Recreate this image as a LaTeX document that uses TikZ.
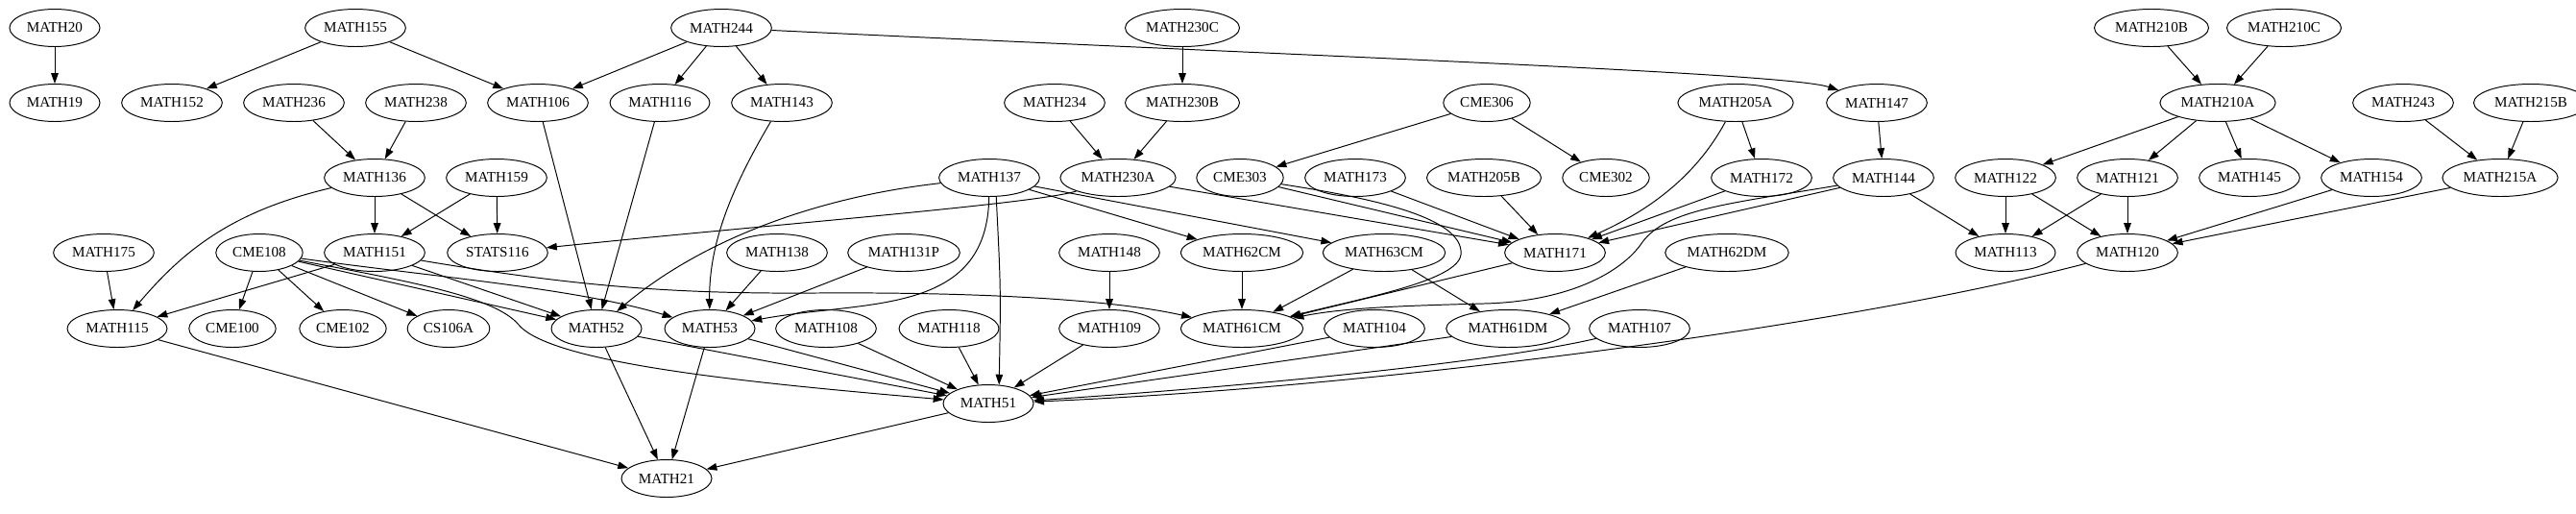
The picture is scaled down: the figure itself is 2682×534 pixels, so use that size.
\documentclass[tikz,border=0pt]{standalone}
\usepackage{fontspec}
\setmainfont{Liberation Serif}
\usetikzlibrary{shapes.geometric,arrows.meta}
\tikzset{
  crs/.style={ellipse, draw, line width=0.9pt, minimum height=36pt, inner xsep=3.85pt, inner ysep=2pt, font=\fontsize{14}{16}\selectfont},
  arr/.style={line width=0.9pt, -{Triangle[length=10pt,width=7pt]}}
}
\begin{document}
\begin{tikzpicture}[x=0.9233pt,y=-0.9233pt]
\useasboundingbox (0,0) rectangle (2682,534);
% row 1
\node[crs] (MATH20) at (57,29) {MATH20};
\node[crs] (MATH155) at (370,29) {MATH155};
\node[crs] (MATH244) at (751,29) {MATH244};
\node[crs] (MATH230C) at (1231,29) {MATH230C};
\node[crs] (MATH210B) at (2240,29) {MATH210B};
\node[crs] (MATH210C) at (2378,29) {MATH210C};
% row 2
\node[crs] (MATH19) at (57,107) {MATH19};
\node[crs] (MATH152) at (179,107) {MATH152};
\node[crs] (MATH236) at (306,107) {MATH236};
\node[crs] (MATH238) at (433,107) {MATH238};
\node[crs] (MATH106) at (560,107) {MATH106};
\node[crs] (MATH116) at (687,107) {MATH116};
\node[crs] (MATH143) at (814,107) {MATH143};
\node[crs] (MATH234) at (1098,107) {MATH234};
\node[crs] (MATH230B) at (1231,107) {MATH230B};
\node[crs] (CME306) at (1548,107) {CME306};
\node[crs] (MATH205A) at (1807,107) {MATH205A};
\node[crs] (MATH147) at (1954,107) {MATH147};
\node[crs] (MATH210A) at (2309,107) {MATH210A};
\node[crs] (MATH243) at (2502,107) {MATH243};
\node[crs] (MATH215B) at (2635,107) {MATH215B};
% row 3
\node[crs] (MATH136) at (390,185) {MATH136};
\node[crs] (MATH159) at (517,185) {MATH159};
\node[crs] (MATH137) at (1030,185) {MATH137};
\node[crs] (MATH230A) at (1164,185) {MATH230A};
\node[crs] (CME303) at (1291,185) {CME303};
\node[crs] (MATH173) at (1411,185) {MATH173};
\node[crs] (MATH205B) at (1545,185) {MATH205B};
\node[crs] (CME302) at (1672,185) {CME302};
\node[crs] (MATH172) at (1834,185) {MATH172};
\node[crs] (MATH144) at (1961,185) {MATH144};
\node[crs] (MATH122) at (2088,185) {MATH122};
\node[crs] (MATH121) at (2215,185) {MATH121};
\node[crs] (MATH145) at (2342,185) {MATH145};
\node[crs] (MATH154) at (2469,185) {MATH154};
\node[crs] (MATH215A) at (2603,185) {MATH215A};
% row 4
\node[crs] (MATH175) at (108,263) {MATH175};
\node[crs] (CME108) at (270,263) {CME108};
\node[crs] (MATH151) at (390,263) {MATH151};
\node[crs] (STATS116) at (518,263) {STATS116};
\node[crs] (MATH138) at (809,263) {MATH138};
\node[crs] (MATH131P) at (941,263) {MATH131P};
\node[crs] (MATH148) at (1155,263) {MATH148};
\node[crs] (MATH62CM) at (1293,263) {MATH62CM};
\node[crs] (MATH63CM) at (1441,263) {MATH63CM};
\node[crs] (MATH171) at (1619,263) {MATH171};
\node[crs] (MATH62DM) at (1798,263) {MATH62DM};
\node[crs] (MATH113) at (2088,263) {MATH113};
\node[crs] (MATH120) at (2215,263) {MATH120};
% row 5
\node[crs] (MATH115) at (122,342) {MATH115};
\node[crs] (CME100) at (242,342) {CME100};
\node[crs] (CME102) at (357,342) {CME102};
\node[crs] (CS106A) at (467,342) {CS106A};
\node[crs] (MATH52) at (621,342) {MATH52};
\node[crs] (MATH53) at (739,342) {MATH53};
\node[crs] (MATH108) at (860,342) {MATH108};
\node[crs] (MATH118) at (988,342) {MATH118};
\node[crs] (MATH109) at (1155,342) {MATH109};
\node[crs] (MATH61CM) at (1293,342) {MATH61CM};
\node[crs] (MATH104) at (1431,342) {MATH104};
\node[crs] (MATH61DM) at (1570,342) {MATH61DM};
\node[crs] (MATH107) at (1707,342) {MATH107};
% rows 6-7
\node[crs] (MATH51) at (1029,420) {MATH51};
\node[crs] (MATH21) at (694,498) {MATH21};
% edges
\draw[arr] (MATH20) -- (MATH19);
\draw[arr] (MATH155) -- (MATH152);
\draw[arr] (MATH155) -- (MATH106);
\draw[arr] (MATH244) -- (MATH106);
\draw[arr] (MATH244) -- (MATH116);
\draw[arr] (MATH244) -- (MATH143);
\draw[arr] (MATH244) .. controls (1400,60) and (1860,76) .. (MATH147);
\draw[arr] (MATH230C) -- (MATH230B);
\draw[arr] (MATH210B) -- (MATH210A);
\draw[arr] (MATH210C) -- (MATH210A);
\draw[arr] (MATH236) -- (MATH136);
\draw[arr] (MATH238) -- (MATH136);
\draw[arr] (MATH234) -- (MATH230A);
\draw[arr] (MATH230B) -- (MATH230A);
\draw[arr] (CME306) -- (CME303);
\draw[arr] (CME306) -- (CME302);
\draw[arr] (MATH205A) -- (MATH172);
\draw[arr] (MATH205A) .. controls (1765,185) and (1715,220) .. (MATH171);
\draw[arr] (MATH147) -- (MATH144);
\draw[arr] (MATH210A) -- (MATH122);
\draw[arr] (MATH210A) -- (MATH121);
\draw[arr] (MATH210A) -- (MATH145);
\draw[arr] (MATH210A) -- (MATH154);
\draw[arr] (MATH243) -- (MATH215A);
\draw[arr] (MATH215B) -- (MATH215A);
\draw[arr] (MATH136) -- (MATH151);
\draw[arr] (MATH136) -- (STATS116);
\draw[arr] (MATH136) .. controls (240,220) and (190,262) .. (MATH115);
\draw[arr] (MATH159) -- (MATH151);
\draw[arr] (MATH159) -- (STATS116);
\draw[arr] (MATH230A) .. controls (1080,212) and (800,234) .. (STATS116);
\draw[arr] (MATH137) .. controls (850,205) and (730,250) .. (MATH52);
\draw[arr] (MATH137) .. controls (1028,330) and (900,312) .. (MATH53);
\draw[arr] (MATH137.-70) .. controls (1042,300) .. (MATH51.60);
\draw[arr] (MATH137) -- (MATH62CM);
\draw[arr] (MATH137) -- (MATH63CM);
\draw[arr] (MATH230A) -- (MATH171);
\draw[arr] (CME303) -- (MATH171);
\draw[arr] (CME303) .. controls (1420,205) and (1525,225) .. (1521,265) .. controls (1518,292) and (1420,310) .. (MATH61CM);
\draw[arr] (MATH173) -- (MATH171);
\draw[arr] (MATH205B) -- (MATH171);
\draw[arr] (MATH172) -- (MATH171);
\draw[arr] (MATH144) -- (MATH171);
\draw[arr] (MATH144) .. controls (1800,212) and (1735,218) .. (1710,252) .. controls (1688,285) and (1630,314) .. (1545,316) .. controls (1470,318) and (1400,320) .. (MATH61CM);
\draw[arr] (MATH144) -- (MATH113);
\draw[arr] (MATH122) -- (MATH113);
\draw[arr] (MATH122) -- (MATH120);
\draw[arr] (MATH121) -- (MATH113);
\draw[arr] (MATH121) -- (MATH120);
\draw[arr] (MATH154) -- (MATH120);
\draw[arr] (MATH215A) -- (MATH120);
\draw[arr] (MATH175) -- (MATH115);
\draw[arr] (CME108) -- (CME100);
\draw[arr] (CME108) -- (CME102);
\draw[arr] (CME108) -- (CS106A);
\draw[arr] (CME108) -- (MATH52);
\draw[arr] (CME108) .. controls (450,288) and (600,300) .. (MATH53);
\draw[arr] (CME108) .. controls (420,292) and (515,308) .. (540,338) .. controls (575,380) and (800,400) .. (MATH51);
\draw[arr] (MATH151) -- (MATH115);
\draw[arr] (MATH151) -- (MATH52);
\draw[arr] (MATH151) .. controls (600,298) and (700,306) .. (850,305) .. controls (1000,304) and (1150,310) .. (MATH61CM);
\draw[arr] (MATH138) -- (MATH53);
\draw[arr] (MATH131P) -- (MATH53);
\draw[arr] (MATH148) -- (MATH109);
\draw[arr] (MATH62CM) -- (MATH61CM);
\draw[arr] (MATH63CM) -- (MATH61CM);
\draw[arr] (MATH63CM) -- (MATH61DM);
\draw[arr] (MATH171) -- (MATH61CM);
\draw[arr] (MATH62DM) -- (MATH61DM);
\draw[arr] (MATH120) .. controls (1900,345) and (1400,405) .. (MATH51);
\draw[arr] (MATH106) -- (MATH52);
\draw[arr] (MATH116) -- (MATH52);
\draw[arr] (MATH143) .. controls (765,190) and (738,250) .. (MATH53);
\draw[arr] (MATH52) -- (MATH51);
\draw[arr] (MATH53) -- (MATH51);
\draw[arr] (MATH108) -- (MATH51);
\draw[arr] (MATH118) -- (MATH51);
\draw[arr] (MATH109) -- (MATH51);
\draw[arr] (MATH104) -- (MATH51);
\draw[arr] (MATH61DM) -- (MATH51);
\draw[arr] (MATH107) .. controls (1550,378) and (1300,402) .. (MATH51);
\draw[arr] (MATH115) -- (MATH21);
\draw[arr] (MATH52) -- (MATH21);
\draw[arr] (MATH53) -- (MATH21);
\draw[arr] (MATH51) -- (MATH21);
\end{tikzpicture}
\end{document}
